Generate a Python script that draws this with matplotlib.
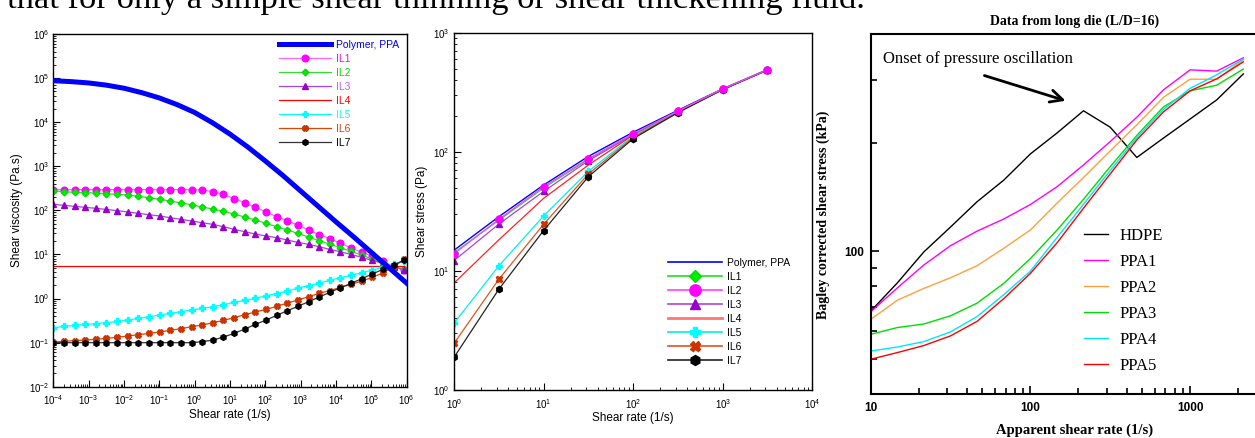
import matplotlib
matplotlib.use('Agg')
import matplotlib.pyplot as plt
from matplotlib.ticker import LogLocator, NullFormatter, FixedLocator, FixedFormatter
import numpy as np

plt.rcParams['font.family'] = ['Liberation Sans', 'DejaVu Sans']
plt.rcParams['mathtext.default'] = 'regular'

# ---------------- Panel 1 data: viscosity vs shear rate ----------------
rate1 = [1.0e-4, 2.0e-4, 4.0e-4, 8.0e-4, 1.6e-3, 3.2e-3, 6.4e-3, 1.28e-2, 2.56e-2,
         5.12e-2, 0.1024, 0.2048, 0.4096, 0.8192, 1.638, 3.277, 6.554, 13.11, 26.21,
         52.43, 104.9, 209.7, 419.4, 838.9, 1678, 3355, 6711, 13420, 26840, 53690,
         107400, 214700, 429500, 859000]
ppa_rate = [1e-4, 3.16e-4, 1e-3, 3.16e-3, 1e-2, 3.16e-2, 1e-1, 3.16e-1, 1, 3.16, 10,
            31.6, 100, 316, 1e3, 3.16e3, 1e4, 3.16e4, 1e5, 3.16e5, 1e6]
ppa_visc = [87100, 83200, 77600, 69200, 58900, 46800, 35500, 25100, 16600, 9770,
            5370, 2750, 1320, 617, 275, 123, 55, 25.1, 11.2, 5.0, 2.24]
il1_visc = [295, 295, 295, 295, 295, 295, 295, 295, 295, 295, 295, 295, 295, 295, 290,
            265, 231, 184, 149, 117, 91.7, 71.8, 58.3, 45.7, 35.8, 28.1, 22.8, 17.8,
            14.0, 11.2, 9.05, 7.09, 5.27, 4.43]
il2_visc = [275, 265, 256, 252, 247, 239, 231, 223, 208, 194, 178, 163, 147, 134.5,
            119, 107, 95, 82.6, 70.6, 60.4, 50.7, 42.6, 35.8, 30.1, 24.8, 20.5, 17.2,
            14.2, 11.7, 9.7, 7.84, 6.25, 5.25, 4.57]
il3_visc = [137, 130, 123, 117, 111, 105, 98.3, 91.7, 85.5, 79.7, 74.4, 68.2, 62.5,
            57.3, 52.5, 48.1, 42.6, 37.1, 32.8, 29.0, 26.2, 24.0, 21.2, 18.8, 16.9,
            15.0, 13.0, 11.5, 10.0, 8.59, 7.34, 6.25, 5.25, 4.43]
il4_visc = [5.6] * len(rate1)
il5_visc = [0.214, 0.234, 0.246, 0.259, 0.269, 0.283, 0.303, 0.325, 0.355, 0.387,
            0.422, 0.461, 0.503, 0.548, 0.598, 0.653, 0.725, 0.818, 0.909, 1.01, 1.16,
            1.29, 1.48, 1.73, 1.95, 2.25, 2.58, 2.97, 3.35, 3.85, 4.43, 5.09, 5.96, 7.21]
il6_visc = [0.103, 0.107, 0.111, 0.114, 0.119, 0.125, 0.132, 0.141, 0.151, 0.162,
            0.174, 0.190, 0.207, 0.230, 0.251, 0.283, 0.320, 0.367, 0.430, 0.494,
            0.568, 0.664, 0.790, 0.925, 1.10, 1.31, 1.51, 1.79, 2.10, 2.49, 3.02,
            3.85, 5.27, 7.74]
il7_visc = [0.0996, 0.0996, 0.0996, 0.0996, 0.0996, 0.0996, 0.0996, 0.0996, 0.0996,
            0.0996, 0.0996, 0.0996, 0.0996, 0.0996, 0.105, 0.114, 0.134, 0.162, 0.203,
            0.259, 0.325, 0.415, 0.530, 0.664, 0.848, 1.08, 1.38, 1.76, 2.21, 2.82,
            3.60, 4.59, 5.75, 7.47]

# ---------------- Panel 2 data: shear stress vs shear rate ----------------
rate2 = [1, 3.16, 10, 31.6, 100, 316, 1000, 3160]
ppa_stress = [14.9, 28.5, 52.6, 91.5, 146, 223, 338, 490]
il1_stress = [14.2, 26.6, 49.6, 86.3, 140, 219, 336, 488]
il2_stress = [13.9, 27.1, 50.9, 87.5, 142, 220, 336, 488]
il3_stress = [12.2, 24.7, 46.5, 84.1, 139, 218, 335, 487]
il4_stress = [7.9, 18.2, 40.6, 77.4, 138, 218, 335, 487]
il5_stress = [3.63, 11.0, 28.9, 68.5, 135.6, 216, 334, 486]
il6_stress = [2.46, 8.49, 24.6, 65.1, 132, 215, 334, 486]
il7_stress = [1.88, 7.0, 21.8, 61.8, 129, 213, 333, 486]

# ---------------- Panel 3 data: Bagley corrected shear stress ----------------
app_rate = [10, 14.7, 21.5, 31.6, 46.4, 68.1, 100, 147, 215, 316, 464, 681, 1000, 1468, 2154]
hdpe = [68.1, 81.7, 99.6, 116.9, 137.6, 158, 187, 214, 246.7, 222, 182.8, 207, 234, 264.6, 312.6]
ppa1 = [67.8, 79.1, 91.6, 103.7, 113.9, 123.1, 135.1, 151.5, 174.2, 202.4, 236.7, 282.2, 320.9, 318.3, 346.7]
ppa2 = [64.6, 73.1, 78.8, 84.4, 91.2, 102, 114.7, 136.4, 160.7, 190.6, 225.4, 269, 302.2, 302, 342.2]
ppa3 = [58.7, 61.3, 62.7, 66.1, 71.7, 81.4, 95.5, 114.7, 139.7, 172.3, 210.6, 252.9, 280.4, 290.8, 322.6]
ppa4 = [52.7, 54.1, 56.0, 59.6, 65.8, 75.7, 88.1, 109.4, 135.3, 168, 207.7, 248.9, 284.9, 310.8, 344]
ppa5 = [50.0, 52.2, 54.6, 58.1, 63.8, 73.8, 86.8, 105.7, 131.9, 164.4, 204.6, 244.9, 280.4, 302.9, 337.9]

W, H = 1255, 438
fig = plt.figure(figsize=(W / 100, H / 100), dpi=100)

fig.text(7 / W, 1 - 8 / H, 'that for only a simple shear thinning or shear thickening fluid.',
         family='Liberation Serif', fontsize=24.8, va='baseline', ha='left')


def style_log_axis(ax):
    ax.set_xscale('log')
    ax.set_yscale('log')
    ax.xaxis.set_major_locator(LogLocator(base=10, numticks=30))
    ax.yaxis.set_major_locator(LogLocator(base=10, numticks=30))
    ax.xaxis.set_minor_locator(LogLocator(base=10, subs=np.arange(2, 10), numticks=300))
    ax.yaxis.set_minor_locator(LogLocator(base=10, subs=np.arange(2, 10), numticks=300))
    ax.xaxis.set_minor_formatter(NullFormatter())
    ax.yaxis.set_minor_formatter(NullFormatter())
    ax.tick_params(which='both', direction='in', labelsize=7, top=False, right=False)
    ax.tick_params(which='major', length=5, width=0.8)
    ax.tick_params(which='minor', length=2.5, width=0.6)
    ax.tick_params(axis='x', pad=5)
    ax.tick_params(axis='y', pad=3)
    for s in ax.spines.values():
        s.set_linewidth(1.0)


# ---------------- Panel 1 ----------------
ax1 = fig.add_axes([53.3 / W, 1 - 386.7 / H, 353.3 / W, 352.7 / H])
style_log_axis(ax1)
ax1.set_xlim(1e-4, 1e6)
ax1.set_ylim(1e-2, 1e6)
ms = 4.2
ax1.plot(ppa_rate, ppa_visc, color='#0000FF', lw=3.6, label='Polymer, PPA', zorder=5)
ax1.plot(rate1, il1_visc, color='#FF66FF', lw=0.9, marker='o', ms=ms + 0.6, mfc='#FF00FF', mec='#FF00FF', label='IL1')
ax1.plot(rate1, il2_visc, color='#33DD33', lw=0.9, marker='D', ms=ms - 0.8, mfc='#00EE00', mec='#00DD00', label='IL2')
ax1.plot(rate1, il3_visc, color='#AA44DD', lw=0.9, marker='^', ms=ms, mfc='#9900CC', mec='#9900CC', label='IL3')
ax1.plot(rate1, il4_visc, color='#FF0000', lw=0.9, label='IL4')
ax1.plot(rate1, il5_visc, color='#00FFFF', lw=0.9, marker='P', ms=ms + 0.4, mfc='#00FFFF', mec='#00FFFF', label='IL5')
ax1.plot(rate1, il6_visc, color='#DD4400', lw=0.9, marker='X', ms=ms, mfc='#CC3300', mec='#CC3300', label='IL6')
ax1.plot(rate1, il7_visc, color='#333333', lw=0.9, marker='h', ms=ms, mfc='black', mec='black', label='IL7')
ax1.set_xlabel('Shear rate (1/s)', fontsize=8.5, labelpad=1)
ax1.set_ylabel('Shear viscosity (Pa.s)', fontsize=8.5, labelpad=4)
leg1 = ax1.legend(loc='upper left', bbox_to_anchor=(279 / W, 1 - 40 / H), bbox_transform=fig.transFigure,
                  frameon=False, fontsize=7.5, handlelength=5.0, handletextpad=0.5, labelspacing=0.38,
                  borderpad=0, borderaxespad=0, numpoints=1)
for txt, c in zip(leg1.get_texts(), ['#0000FF', '#FF00FF', '#00DD00', '#CC55FF', '#FF0000', '#00FFFF', '#DD4400', 'black']):
    txt.set_color(c)

# ---------------- Panel 2 ----------------
ax2 = fig.add_axes([454 / W, 1 - 390 / H, 358.3 / W, 357.3 / H])
style_log_axis(ax2)
ax2.set_xlim(1, 1e4)
ax2.set_ylim(1, 1e3)
ms2 = 4.5
ax2.plot(rate2, ppa_stress, color='#0000FF', lw=1.0, label='Polymer, PPA')
ax2.plot(rate2, il1_stress, color='#22DD22', lw=0.9, marker='D', ms=ms2 - 0.8, mfc='#00EE00', mec='#00DD00', label='IL1')
ax2.plot(rate2, il2_stress, color='#FF44FF', lw=0.9, marker='o', ms=ms2 + 0.6, mfc='#FF00FF', mec='#FF00FF', label='IL2', zorder=4)
ax2.plot(rate2, il3_stress, color='#AA44DD', lw=0.9, marker='^', ms=ms2, mfc='#9900CC', mec='#9900CC', label='IL3')
ax2.plot(rate2, il4_stress, color='#FF2222', lw=0.9, label='IL4')
ax2.plot(rate2, il5_stress, color='#00EEEE', lw=0.9, marker='P', ms=ms2 + 0.3, mfc='#00FFFF', mec='#00FFFF', label='IL5')
ax2.plot(rate2, il6_stress, color='#DD5522', lw=0.9, marker='X', ms=ms2, mfc='#CC3300', mec='#CC3300', label='IL6')
ax2.plot(rate2, il7_stress, color='#222222', lw=0.9, marker='h', ms=ms2, mfc='black', mec='black', label='IL7')
ax2.set_xlabel('Shear rate (1/s)', fontsize=8.5, labelpad=1)
ax2.set_ylabel('Shear stress (Pa)', fontsize=8.5, labelpad=4)
leg2 = ax2.legend(loc='upper left', bbox_to_anchor=(668 / W, 1 - 258 / H), bbox_transform=fig.transFigure,
                  frameon=False, fontsize=7.5, handlelength=5.2, handletextpad=0.5, labelspacing=0.38,
                  borderpad=0, borderaxespad=0, numpoints=1, markerscale=1.6)
for h in leg2.legend_handles:
    h.set_linewidth(1.2)
leg2.legend_handles[4].set_color('#FF7777')
leg2.legend_handles[4].set_linewidth(2.0)

# ---------------- Panel 3 ----------------
ax3 = fig.add_axes([870.7 / W, 1 - 394 / H, 395.6 / W, 360 / H])
ax3.set_xscale('log')
ax3.set_yscale('log')
ax3.set_xlim(10, 3000)
ax3.set_ylim(40, 404)
lw3 = 1.0
ax3.plot(app_rate, hdpe, color='black', lw=lw3, label='HDPE')
ax3.plot(app_rate, ppa1, color='#FF00FF', lw=lw3, label='PPA1')
ax3.plot(app_rate, ppa2, color='#FFA040', lw=lw3, label='PPA2')
ax3.plot(app_rate, ppa3, color='#00DD00', lw=lw3, label='PPA3')
ax3.plot(app_rate, ppa4, color='#00E5FF', lw=lw3, label='PPA4')
ax3.plot(app_rate, ppa5, color='#FF0000', lw=lw3, label='PPA5')
ax3.xaxis.set_major_locator(FixedLocator([10, 100, 1000]))
ax3.xaxis.set_major_formatter(FixedFormatter(['10', '100', '1000']))
ax3.xaxis.set_minor_locator(FixedLocator([20, 30, 40, 50, 60, 70, 80, 90, 200, 300, 400, 500, 600, 700, 800, 900, 2000, 3000]))
ax3.xaxis.set_minor_formatter(NullFormatter())
ax3.yaxis.set_major_locator(FixedLocator([100]))
ax3.yaxis.set_major_formatter(FixedFormatter(['100']))
ax3.yaxis.set_minor_locator(FixedLocator([50, 60, 70, 80, 90, 200, 300]))
ax3.yaxis.set_minor_formatter(NullFormatter())
ax3.tick_params(which='both', direction='in', top=False, right=False, labelsize=8.5, width=1.2)
ax3.tick_params(which='major', length=6)
ax3.tick_params(which='minor', length=4)
ax3.tick_params(axis='x', pad=6)
ax3.tick_params(axis='y', pad=5)
for lab in ax3.get_xticklabels() + ax3.get_yticklabels():
    lab.set_fontweight('bold')
for s in ax3.spines.values():
    s.set_linewidth(1.5)
ax3.annotate('', xy=(172.6, 261.8), xytext=(49.6, 311),
             arrowprops=dict(arrowstyle='->', lw=2.0, color='black', mutation_scale=22))
ax3.text(11.9, 344, 'Onset of pressure oscillation', family='Liberation Serif', fontsize=12,
         va='center', ha='left')
leg3 = ax3.legend(loc='upper left', bbox_to_anchor=(1084 / W, 1 - 228 / H), bbox_transform=fig.transFigure,
                  frameon=False, prop={'family': 'Liberation Serif', 'size': 12}, handlelength=1.45,
                  handletextpad=0.7, labelspacing=0.6, borderpad=0, borderaxespad=0)
fig.text(1075 / W, 1 - 21 / H, 'Data from long die (L/D=16)', family='Liberation Serif',
         fontweight='bold', fontsize=10, ha='center', va='center')
fig.text(1075 / W, 1 - 430 / H, 'Apparent shear rate (1/s)', family='Liberation Serif',
         fontweight='bold', fontsize=10.5, ha='center', va='center')
fig.text(823 / W, 1 - 215 / H, 'Bagley corrected shear stress (kPa)', family='Liberation Serif',
         fontweight='bold', fontsize=10, ha='center', va='center', rotation=90)

fig.savefig('out.png', dpi=100)
